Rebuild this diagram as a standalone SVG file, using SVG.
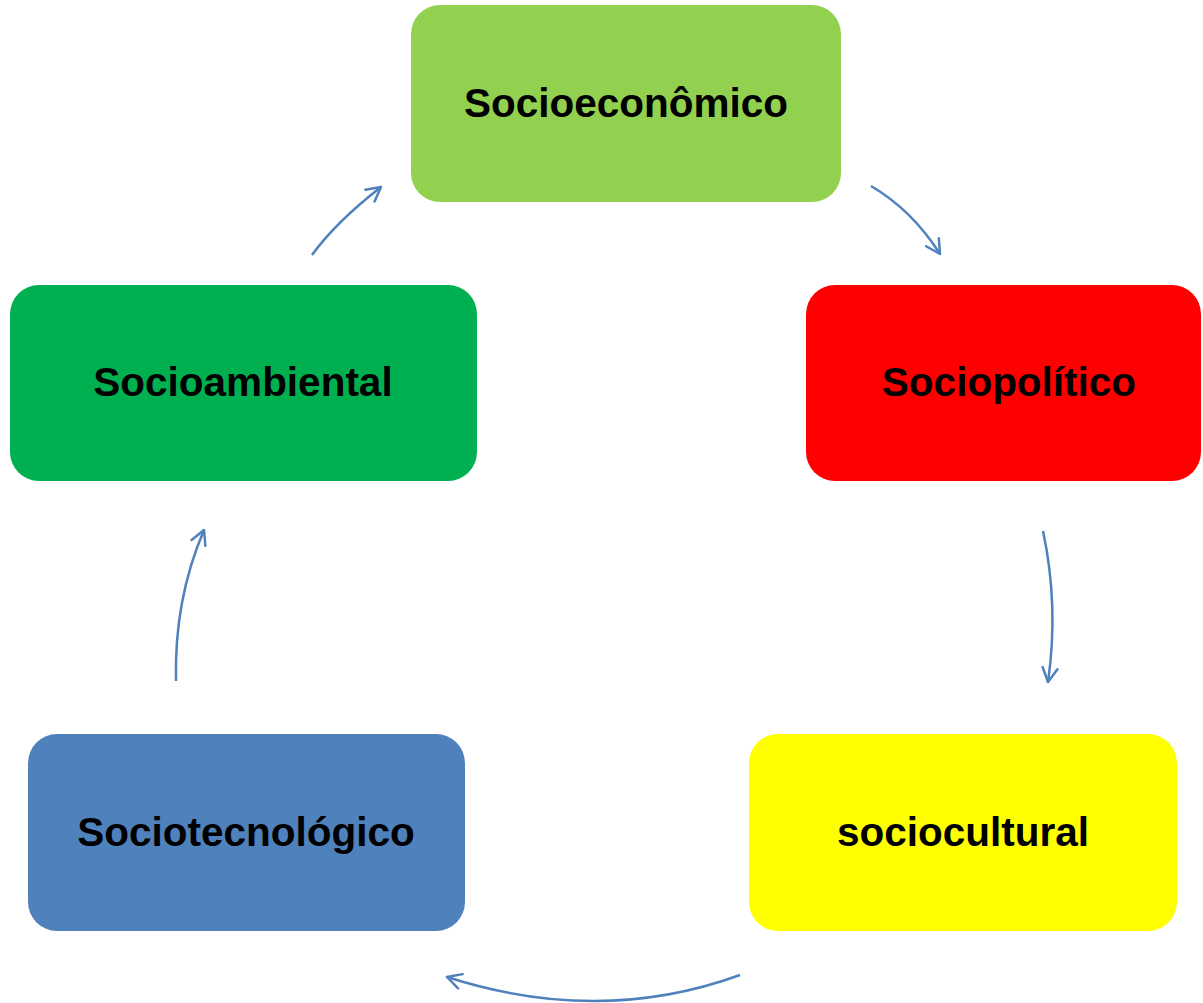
<svg xmlns="http://www.w3.org/2000/svg" width="1203" height="1003" viewBox="0 0 1203 1003">
<defs>
<style>
.box{stroke:none}
.lbl{font-family:"Liberation Sans",Arial,sans-serif;font-weight:bold;font-size:40.5px;fill:#000;text-anchor:middle}
.conn{fill:none;stroke:#4F81BD;stroke-width:2.5;marker-end:url(#arr)}
</style>
<marker id="arr" viewBox="0 0 18 18" refX="16" refY="9" markerWidth="18" markerHeight="18" markerUnits="userSpaceOnUse" orient="auto">
<path d="M2,1.5 L16,9 L2,16.5" fill="none" stroke="#4F81BD" stroke-width="2.5" stroke-linecap="round" stroke-linejoin="round"/>
</marker>
</defs>
<rect width="1203" height="1003" fill="#fff"/>
<g id="connectors">
<path class="conn" d="M312,255 Q336,222 381,187"/>
<path class="conn" d="M871,186 Q912,210 940,254"/>
<path class="conn" d="M1043,531 Q1059,606 1048,682"/>
<path class="conn" d="M740,975 Q600,1026 447,977"/>
<path class="conn" d="M176,681 Q174,600 204,530"/>
</g>
<g id="socioeconomico">
<rect class="box" x="411" y="5" width="430" height="197" rx="29" fill="#92D050"/>
<text class="lbl" x="626" y="117">Socioeconômico</text>
</g>
<g id="sociopolitico">
<rect class="box" x="806" y="285" width="395" height="196" rx="29" fill="#FF0000"/>
<text class="lbl" x="1009" y="396">Sociopolítico</text>
</g>
<g id="socioambiental">
<rect class="box" x="10" y="285" width="467" height="196" rx="29" fill="#00B050"/>
<text class="lbl" x="243" y="396">Socioambiental</text>
</g>
<g id="sociotecnologico">
<rect class="box" x="28" y="734" width="437" height="197" rx="29" fill="#4F81BD"/>
<text class="lbl" x="246" y="846">Sociotecnológico</text>
</g>
<g id="sociocultural">
<rect class="box" x="749" y="734" width="428" height="197" rx="29" fill="#FFFF00"/>
<text class="lbl" x="963" y="846">sociocultural</text>
</g>
</svg>
